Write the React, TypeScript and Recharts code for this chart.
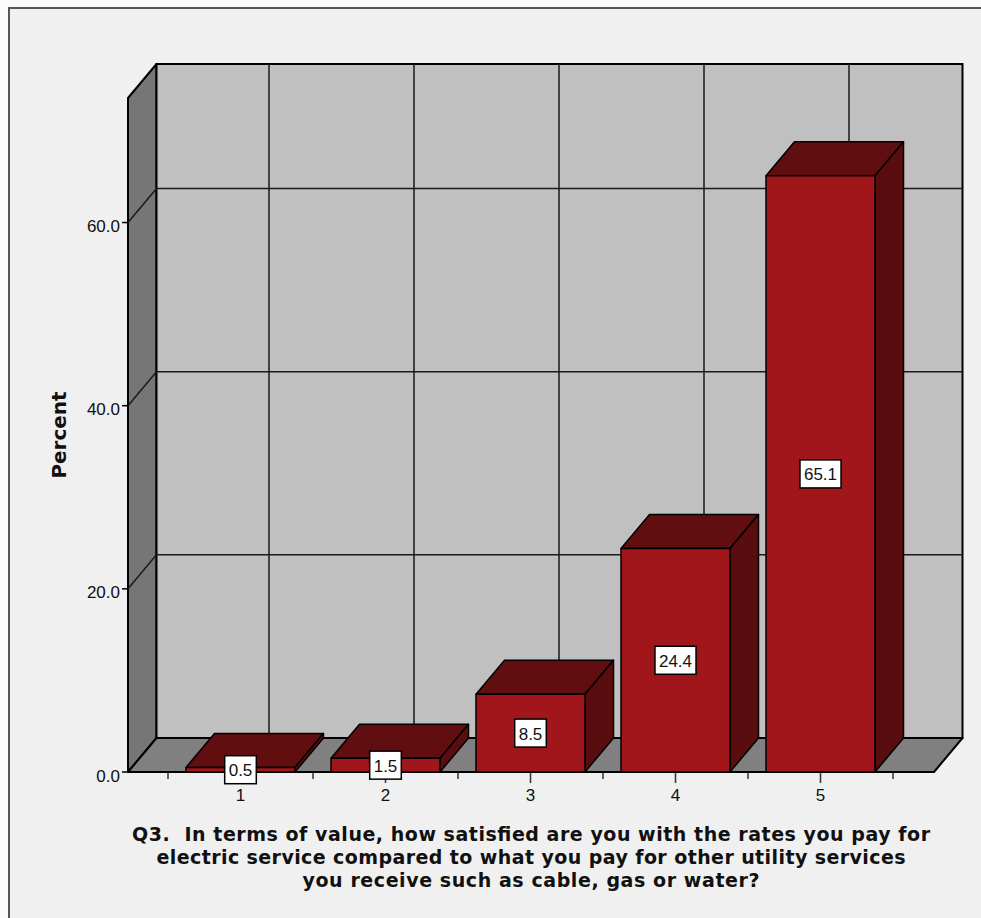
import React from 'react';
import { BarChart, Bar, XAxis, YAxis, ReferenceArea, ReferenceLine, LabelList } from 'recharts';

const categories = ['1', '2', '3', '4', '5'];
const percents = [0.5, 1.5, 8.5, 24.4, 65.1];
const yTicks = [0, 20, 40, 60];
const gridValues = [20, 40, 60];
const yMax = 73.6;
const yLabel = 'Percent';
const titleLines = [
  'Q3.  In terms of value, how satisfied are you with the rates you pay for',
  'electric service compared to what you pay for other utility services',
  'you receive such as cable, gas or water?',
];
const titleWidths = [798, 749, 457];

const data = categories.map((c, i) => ({ category: c, percent: percents[i] }));

// layout of the front plane of the 3d box
const W = 981;
const H = 918;
const LEFT = 128;
const RIGHT = 934;
const TOP = 98;
const BOTTOM = 772;
const DX = 28.5;
const DY = 34;
const Y_AXIS_W = 60;
const X_AXIS_H = 40;

const FRONT = '#a1161a';
const DARK = '#600e10';
const SIDE = '#5a0d0f';
const TICK_FONT = '"Liberation Sans", Arial, sans-serif';
const TITLE_FONT = '"DejaVu Sans", Verdana, sans-serif';

const Walls = (props: any) => {
  const top = props.y;
  const bottom = props.y + props.height;
  return (
    <g>
      <polygon
        points={`${LEFT},${top} ${LEFT + DX},${top - DY} ${LEFT + DX},${bottom - DY} ${LEFT},${bottom}`}
        fill="#767676"
        stroke="#000"
        strokeWidth={2}
        strokeLinejoin="round"
      />
      <rect x={LEFT + DX} y={top - DY} width={RIGHT - LEFT} height={bottom - top} fill="#c0c0c0" stroke="#000" strokeWidth={2} />
      <polygon
        points={`${LEFT},${bottom} ${LEFT + DX},${bottom - DY} ${RIGHT + DX},${bottom - DY} ${RIGHT},${bottom}`}
        fill="#808080"
        stroke="#000"
        strokeWidth={2}
        strokeLinejoin="round"
      />
    </g>
  );
};

const HGrid = (props: any) => {
  const y = props.y1;
  return (
    <g>
      <line x1={LEFT} y1={y} x2={LEFT + DX} y2={y - DY} stroke="#1a1a1a" strokeWidth={1.5} />
      <line x1={LEFT + DX} y1={y - DY} x2={RIGHT + DX} y2={y - DY} stroke="#1a1a1a" strokeWidth={1.5} />
    </g>
  );
};

const VGrid = (props: any) => {
  const x = props.x1 + DX;
  const y1 = Math.min(props.y1, props.y2) - DY;
  const y2 = Math.max(props.y1, props.y2) - DY;
  return <line x1={x} y1={y1} x2={x} y2={y2} stroke="#1a1a1a" strokeWidth={1.5} />;
};

const Bar3D = (props: any) => {
  const { x, y, width, height } = props;
  const b = y + height;
  const r = x + width;
  return (
    <g stroke="#000" strokeWidth={1.5} strokeLinejoin="round">
      <polygon points={`${x},${y} ${x + DX},${y - DY} ${r + DX},${y - DY} ${r},${y}`} fill={DARK} />
      <polygon points={`${r},${y} ${r + DX},${y - DY} ${r + DX},${b - DY} ${r},${b}`} fill={SIDE} />
      <rect x={x} y={y} width={width} height={height} fill={FRONT} />
    </g>
  );
};

const ValueBox = (props: any) => {
  const vb = props.viewBox && props.viewBox.width != null ? props.viewBox : props;
  const { x, y, width, height } = vb;
  const text = Number(props.value).toFixed(1);
  let tw = 0;
  for (const ch of text) tw += ch === '.' ? 4.7 : 9.45;
  const bw = tw + 8;
  const bh = 28;
  const cx = x + width / 2;
  const cy = y + height / 2;
  return (
    <g>
      <rect x={cx - bw / 2} y={cy - bh / 2} width={bw} height={bh} fill="#fff" stroke="#000" strokeWidth={1.5} />
      <text x={cx} y={cy + 6.5} textAnchor="middle" fontFamily={TICK_FONT} fontSize={17} fill="#111">
        {text}
      </text>
    </g>
  );
};

const YTick = (props: any) => {
  const { x, y, payload } = props;
  return (
    <g>
      <line x1={x - 6} y1={y} x2={x} y2={y} stroke="#000" strokeWidth={1.5} />
      <text x={x - 8} y={y + 9.5} textAnchor="end" fontFamily={TICK_FONT} fontSize={17} fill="#111">
        {Number(payload.value).toFixed(1)}
      </text>
    </g>
  );
};

const XTick = (props: any) => {
  const { x, y, payload, index } = props;
  const half = payload && payload.offset > 10 ? payload.offset : 72.5;
  return (
    <g stroke="#333" strokeWidth={1.5}>
      <line x1={x} y1={y + 1} x2={x} y2={y + 11} />
      <line x1={x - half} y1={y + 1} x2={x - half} y2={y + 7} />
      {index === categories.length - 1 && <line x1={x + half} y1={y + 1} x2={x + half} y2={y + 7} />}
      <text x={x} y={y + 29} textAnchor="middle" fontFamily={TICK_FONT} fontSize={17} fill="#111" stroke="none">
        {payload.value}
      </text>
    </g>
  );
};

const renderTitle = () => {
  const cx = (LEFT + RIGHT) / 2;
  return (
    <g>
      {titleLines.map((line, i) => (
        <text
          key={i}
          x={cx}
          y={BOTTOM + 69 + i * 23}
          textAnchor="middle"
          fontFamily={TITLE_FONT}
          fontWeight="bold"
          fontSize={19}
          fill="#111"
          textLength={titleWidths[i]}
          lengthAdjust="spacing"
          style={{ whiteSpace: 'pre' }}
        >
          {line}
        </text>
      ))}
    </g>
  );
};

const renderYLabel = () => {
  const cy = (TOP + BOTTOM) / 2;
  return (
    <text
      x={66}
      y={cy}
      transform={`rotate(-90, 66, ${cy})`}
      textAnchor="middle"
      fontFamily={TITLE_FONT}
      fontWeight="bold"
      fontSize={20}
      fill="#111"
      textLength={87}
      lengthAdjust="spacing"
    >
      {yLabel}
    </text>
  );
};

export default function App() {
  return (
    <div style={{ position: 'fixed', inset: 0, background: '#fafafa', overflow: 'hidden' }}>
      <div
        style={{
          position: 'absolute',
          left: 8,
          top: 7,
          right: 0,
          bottom: 0,
          borderLeft: '2px solid #555',
          borderTop: '2px solid #555',
          background: '#f0f0f0',
        }}
      />
      <div style={{ position: 'absolute', left: 0, top: 0 }}>
        <BarChart
          width={W}
          height={H}
          data={data}
          margin={{ top: TOP, right: W - RIGHT, bottom: H - BOTTOM - X_AXIS_H, left: LEFT - Y_AXIS_W }}
          barSize={109}
        >
          <XAxis
            dataKey="category"
            height={X_AXIS_H}
            padding={{ left: 40, right: 41 }}
            interval={0}
            axisLine={false}
            tickLine={false}
            tickSize={0}
            tickMargin={0}
            tick={<XTick />}
            label={renderTitle}
          />
          <YAxis
            width={Y_AXIS_W}
            domain={[0, yMax]}
            ticks={yTicks}
            axisLine={false}
            tickLine={false}
            tickSize={0}
            tickMargin={0}
            tick={<YTick />}
            label={renderYLabel}
          />
          <ReferenceArea y1={0} y2={yMax} shape={<Walls />} zIndex={-30} />
          {gridValues.map((v) => (
            <ReferenceLine key={`h${v}`} y={v} shape={<HGrid />} zIndex={-20} />
          ))}
          {categories.map((c) => (
            <ReferenceLine key={`v${c}`} x={c} shape={<VGrid />} zIndex={-20} />
          ))}
          <Bar dataKey="percent" shape={<Bar3D />} isAnimationActive={false}>
            <LabelList dataKey="percent" content={<ValueBox />} />
          </Bar>
        </BarChart>
      </div>
    </div>
  );
}
